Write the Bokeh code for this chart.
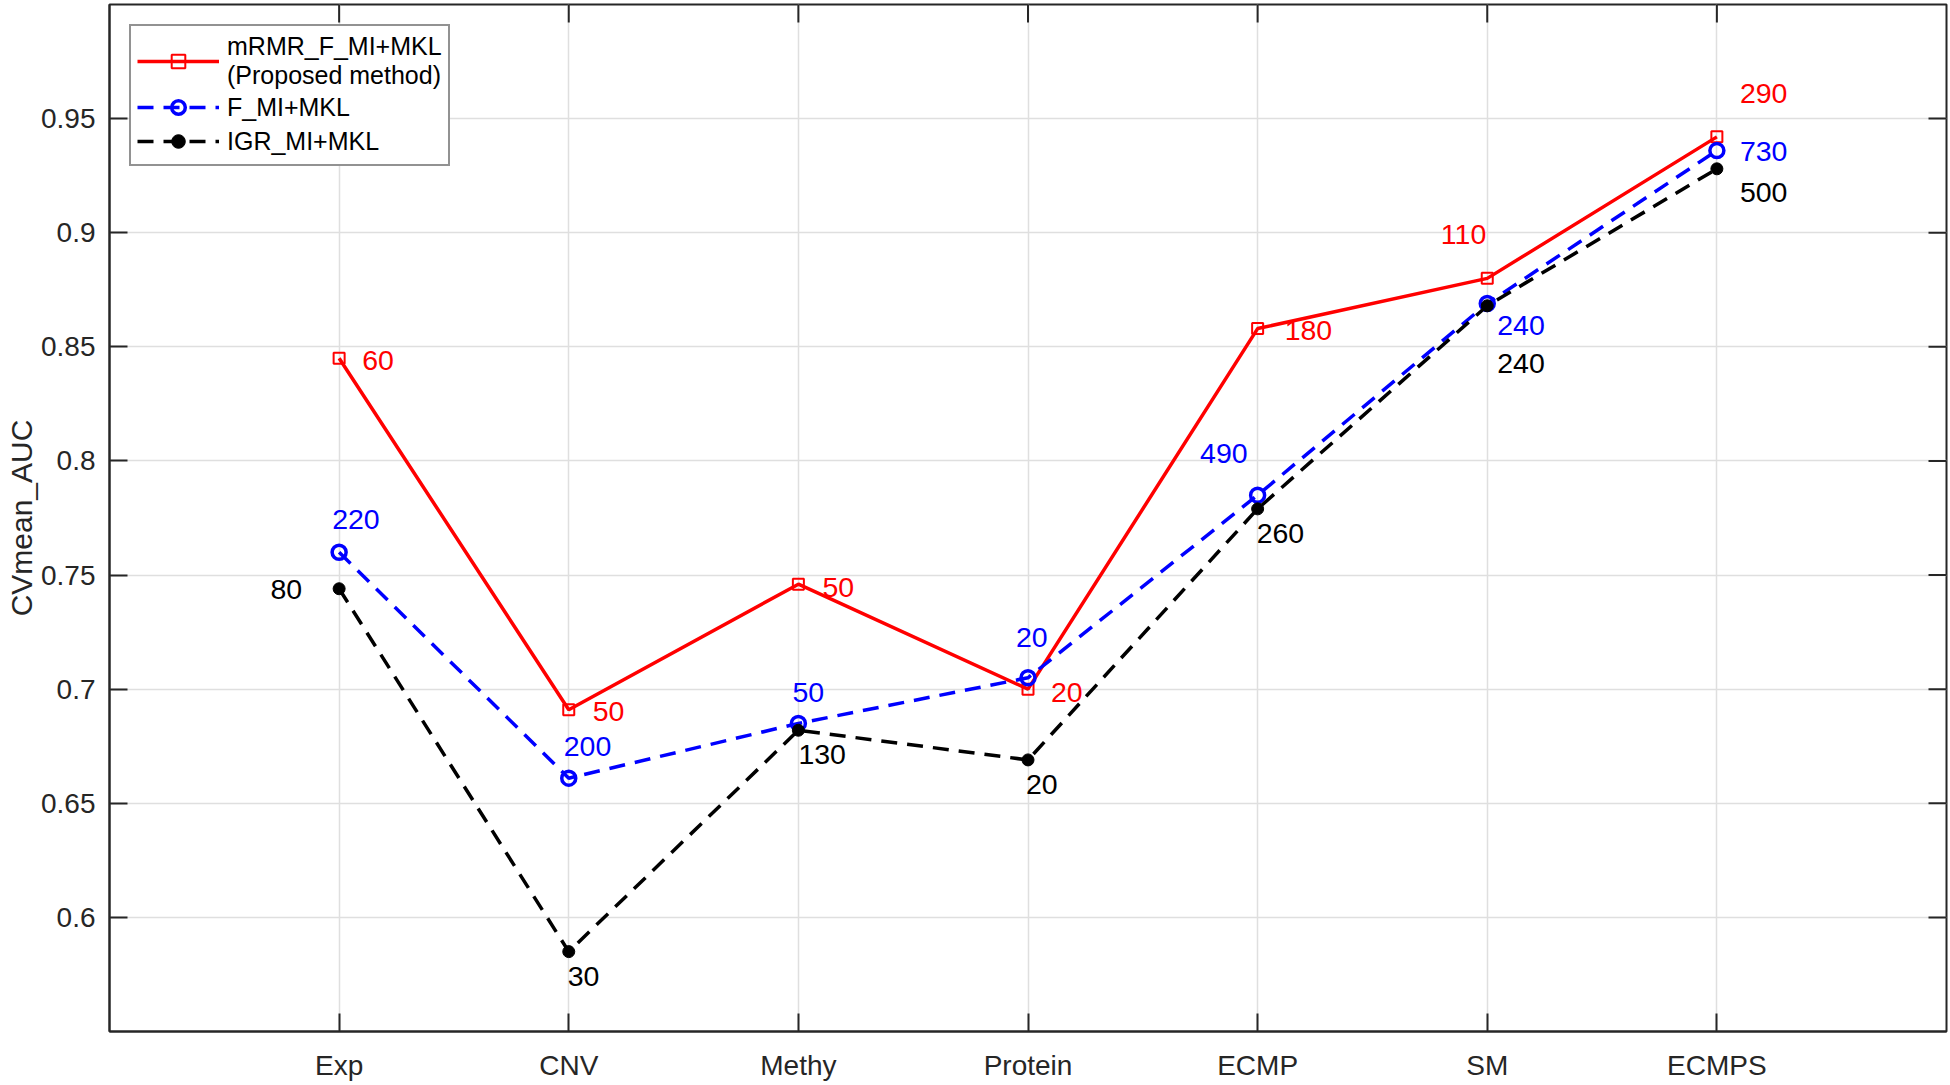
import math
from bokeh.plotting import figure
from bokeh.models import (Range1d, FixedTicker, ColumnDataSource,
                          Legend, LegendItem)
from bokeh.embed import file_html
from bokeh.resources import INLINE

# ---------------- data ----------------
categories = ["Exp", "CNV", "Methy", "Protein", "ECMP", "SM", "ECMPS"]
auc_mrmr = [0.845, 0.691, 0.746, 0.700, 0.858, 0.880, 0.942]
auc_fmi = [0.760, 0.661, 0.685, 0.705, 0.785, 0.869, 0.936]
auc_igr = [0.744, 0.585, 0.682, 0.669, 0.779, 0.868, 0.928]
feat_mrmr = ["60", "50", "50", "20", "180", "110", "290"]
feat_fmi = ["220", "200", "50", "20", "490", "240", "730"]
feat_igr = ["80", "30", "130", "20", "260", "240", "500"]
series_names = ["mRMR_F_MI+MKL\n(Proposed method)", "F_MI+MKL", "IGR_MI+MKL"]
y_ticks = [0.6, 0.65, 0.7, 0.75, 0.8, 0.85, 0.9, 0.95]
y_tick_labels = ["0.6", "0.65", "0.7", "0.75", "0.8", "0.85", "0.9", "0.95"]
y_label = "CVmean_AUC"

# ---------------- layout / style (screen-pixel label offsets) ----------------
off_mrmr = [(23, 2, "left"), (24, 2, "left"), (24, 3, "left"), (23, 3, "left"),
            (27, 2, "left"), (-1, -44, "right"), (23, -43, "left")]
off_fmi = [(-7, -33, "left"), (-5, -32, "left"), (-6, -31, "left"), (-12, -40, "left"),
           (-10, -42, "right"), (10, 22, "left"), (23, 1, "left")]
off_igr = [(-37, 1, "right"), (-1, 25, "left"), (0, 24, "left"), (-2, 25, "left"),
           (-1, 25, "left"), (10, 58, "left"), (23, 24, "left")]

FONT = "Liberation Sans"
AXC = "#262626"
GRID = "#dfdfdf"
TICK_LEN = 18

x_pos = [i + 1 for i in range(len(categories))]
x_lo, x_hi = 0, len(categories) + 1
y_lo, y_hi = 0.55, 1.0

p = figure(width=1948, height=1083,
           x_range=Range1d(x_lo, x_hi),
           y_range=Range1d(y_lo, y_hi),
           output_backend="svg", toolbar_location=None,
           min_border_left=109, min_border_right=2,
           min_border_top=4, min_border_bottom=51)

p.background_fill_color = "white"
p.border_fill_color = "white"
p.outline_line_color = AXC
p.outline_line_width = 2

# axes
xa = p.xaxis[0]
xa.ticker = FixedTicker(ticks=x_pos)
xa.major_label_overrides = {x: c for x, c in zip(x_pos, categories)}
ya = p.yaxis[0]
ya.ticker = FixedTicker(ticks=y_ticks)
ya.major_label_overrides = {t: s for t, s in zip(y_ticks, y_tick_labels)}
ya.axis_label = y_label

for ax in (xa, ya):
    ax.axis_line_color = AXC
    ax.axis_line_width = 2
    ax.major_tick_line_color = AXC
    ax.major_tick_line_width = 2
    ax.major_tick_in = TICK_LEN
    ax.major_tick_out = 0
    ax.minor_tick_line_color = None
    ax.major_label_text_font = FONT
    ax.major_label_text_font_size = "28px"
    ax.major_label_text_color = AXC
xa.major_label_standoff = 18
ya.major_label_standoff = 14

ya.axis_label_text_font = FONT
ya.axis_label_text_font_size = "30px"
ya.axis_label_text_font_style = "normal"
ya.axis_label_text_color = AXC
ya.axis_label_standoff = 0

# grids
p.xgrid.ticker = FixedTicker(ticks=x_pos)
p.ygrid.ticker = FixedTicker(ticks=y_ticks)
for g in (p.xgrid[0], p.ygrid[0]):
    g.grid_line_color = GRID
    g.grid_line_width = 1.5

# mirrored tick marks on the top and right frame edges (box on)
p.ray(x=x_pos, y=[y_hi] * len(x_pos), length=TICK_LEN, length_units="screen",
      angle=-math.pi / 2, line_color=AXC, line_width=2)
p.ray(x=[x_hi] * len(y_ticks), y=y_ticks, length=TICK_LEN, length_units="screen",
      angle=math.pi, line_color=AXC, line_width=2)

# ---------------- series ----------------
def make_src(vals, labels, offs):
    return ColumnDataSource(dict(
        x=x_pos, y=vals, lab=labels,
        dx=[o[0] for o in offs], dy=[o[1] for o in offs],
        al=[o[2] for o in offs]))

src_r = make_src(auc_mrmr, feat_mrmr, off_mrmr)
src_b = make_src(auc_fmi, feat_fmi, off_fmi)
src_k = make_src(auc_igr, feat_igr, off_igr)

lr = p.line("x", "y", source=src_r, line_color="#ff0000", line_width=3.5)
mr = p.scatter("x", "y", source=src_r, marker="square", size=11,
               line_color="#ff0000", line_width=2, fill_color=None)
lb = p.line("x", "y", source=src_b, line_color="#0000ff", line_width=3.5,
            line_dash="16 10")
mb = p.scatter("x", "y", source=src_b, marker="circle", size=14,
               line_color="#0000ff", line_width=3.5, fill_color=None)
lk = p.line("x", "y", source=src_k, line_color="#000000", line_width=3.5,
            line_dash="16 10")
mk = p.scatter("x", "y", source=src_k, marker="circle", size=12,
               line_color="#000000", line_width=1, fill_color="#000000")

for src, col in ((src_r, "#ff0000"), (src_b, "#0000ff"), (src_k, "#000000")):
    p.text("x", "y", text="lab", source=src, x_offset="dx", y_offset="dy",
           text_align="al", text_baseline="middle", text_color=col,
           text_font={"value": FONT}, text_font_size="28.5px")

legend = Legend(items=[
    LegendItem(label=series_names[0], renderers=[lr, mr]),
    LegendItem(label=series_names[1], renderers=[lb, mb]),
    LegendItem(label=series_names[2], renderers=[lk, mk]),
], location="top_left")
legend.margin = 20
legend.padding = 6
legend.spacing = 0
legend.glyph_width = 82
legend.glyph_height = 34
legend.label_height = 34
legend.label_standoff = 8
legend.label_text_font = FONT
legend.label_text_font_size = "25px"
legend.label_text_line_height = 1.75
legend.label_text_color = "#000000"
legend.border_line_color = "#262626"
legend.border_line_width = 2
legend.background_fill_color = "white"
legend.background_fill_alpha = 1.0
p.add_layout(legend, "center")

open("out.html", "w").write(file_html(p, INLINE))
